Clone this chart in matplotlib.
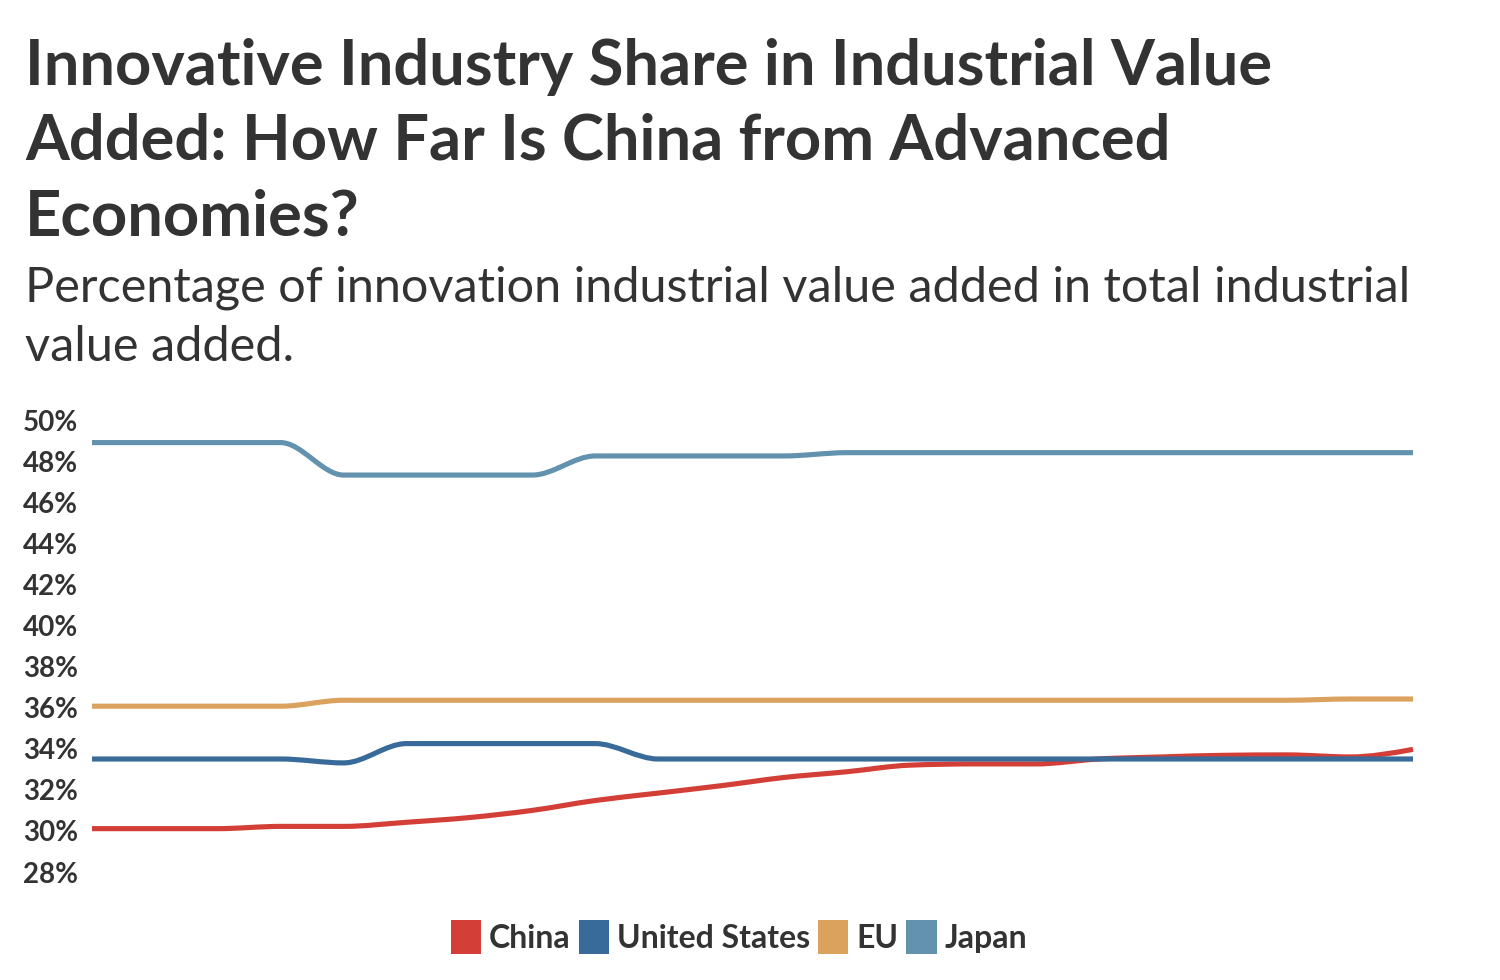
import numpy as np
import matplotlib
matplotlib.use("Agg")
import matplotlib.pyplot as plt
from matplotlib.path import Path
from matplotlib.patches import PathPatch, Patch

# ---------------- data ----------------
years = list(range(2000, 2022))
china = [30.11, 30.11, 30.11, 30.22, 30.22, 30.42, 30.65, 31.0, 31.48, 31.84, 32.2,
         32.6, 32.88, 33.2, 33.26, 33.26, 33.5, 33.6, 33.68, 33.7, 33.6, 33.97]
united_states = [33.5, 33.5, 33.5, 33.5, 33.31, 34.25, 34.25, 34.25, 34.25, 33.5, 33.5,
                 33.5, 33.5, 33.5, 33.5, 33.5, 33.5, 33.5, 33.5, 33.5, 33.5, 33.5]
eu = [36.07, 36.07, 36.07, 36.07, 36.36, 36.36, 36.36, 36.36, 36.36, 36.36, 36.36,
      36.36, 36.36, 36.36, 36.36, 36.36, 36.36, 36.36, 36.36, 36.36, 36.42, 36.42]
japan = [48.9, 48.9, 48.9, 48.9, 47.32, 47.32, 47.32, 47.32, 48.25, 48.25, 48.25,
         48.25, 48.41, 48.41, 48.41, 48.41, 48.41, 48.41, 48.41, 48.41, 48.41, 48.41]
series_names = ["China", "United States", "EU", "Japan"]
series_colors = ["#d33f37", "#386a9a", "#dba25e", "#6392ae"]
y_ticks = [28, 30, 32, 34, 36, 38, 40, 42, 44, 46, 48, 50]
y_tick_labels = [f"{v}%" for v in y_ticks]

title_lines = ["Innovative Industry Share in Industrial Value",
               "Added: How Far Is China from Advanced",
               "Economies?"]
subtitle_lines = ["Percentage of innovation industrial value added in total industrial",
                  "value added."]

TEXT = "#333333"
FONT = "Lato"


def monotone_path(x, y):
    """Cubic Bezier path with monotone (Steffen) tangents, like d3.curveMonotoneX."""
    x = np.asarray(x, float)
    y = np.asarray(y, float)
    n = len(x)
    h = np.diff(x)
    s = np.diff(y) / h
    t = np.zeros(n)
    for i in range(1, n - 1):
        h0, h1, s0, s1 = h[i - 1], h[i], s[i - 1], s[i]
        p = (s0 * h1 + s1 * h0) / (h0 + h1)
        t[i] = (np.sign(s0) + np.sign(s1)) * min(abs(s0), abs(s1), 0.5 * abs(p))
    t[0] = (3 * s[0] - t[1]) / 2 if n > 2 else s[0]
    t[-1] = (3 * s[-1] - t[-2]) / 2 if n > 2 else s[-1]
    verts = [(x[0], y[0])]
    codes = [Path.MOVETO]
    for i in range(n - 1):
        d = h[i] / 3
        verts += [(x[i] + d, y[i] + d * t[i]), (x[i + 1] - d, y[i + 1] - d * t[i + 1]),
                  (x[i + 1], y[i + 1])]
        codes += [Path.CURVE4] * 3
    return Path(verts, codes)


fig = plt.figure(figsize=(15, 9.8), dpi=100)
fig.patch.set_facecolor("white")

W, H = 1500, 980
ax = fig.add_axes([92 / W, 1 - 872 / H, (1413 - 92) / W, (872 - 420) / H])
ax.set_xlim(years[0], years[-1])
ax.set_ylim(28, 50)

for vals, col in zip([china, united_states, eu, japan], series_colors):
    patch = PathPatch(monotone_path(years, vals), facecolor="none", edgecolor=col,
                      lw=3.7, capstyle="butt", joinstyle="round", clip_on=False)
    ax.add_patch(patch)

ax.set_yticks(y_ticks)
ax.set_yticklabels(y_tick_labels, fontsize=20, fontweight="bold", color=TEXT, family=FONT)
ax.set_xticks([])
ax.tick_params(axis="y", length=0, pad=10)
for sp in ax.spines.values():
    sp.set_visible(False)
ax.grid(False)

# title
title_baselines = [85, 160, 236]
for line, yb in zip(title_lines, title_baselines):
    fig.text(25 / W, 1 - yb / H, line, fontsize=45.5, fontweight="bold", color=TEXT,
             family=FONT, va="baseline", ha="left")
sub_baselines = [302, 361]
for line, yb in zip(subtitle_lines, sub_baselines):
    fig.text(25 / W, 1 - yb / H, line, fontsize=35, color=TEXT,
             family=FONT, va="baseline", ha="left")

handles = [Patch(facecolor=c, edgecolor="none") for c in series_colors]
leg = fig.legend(handles, series_names, loc="center", bbox_to_anchor=(739 / W, 1 - 937 / H),
                 ncol=4, frameon=False, handlelength=0.95, handleheight=1.3,
                 handletextpad=0.25, columnspacing=0.25,
                 prop={"family": FONT, "weight": "bold", "size": 23})
for t in leg.get_texts():
    t.set_color(TEXT)

fig.savefig("out.png", dpi=100, facecolor="white")
